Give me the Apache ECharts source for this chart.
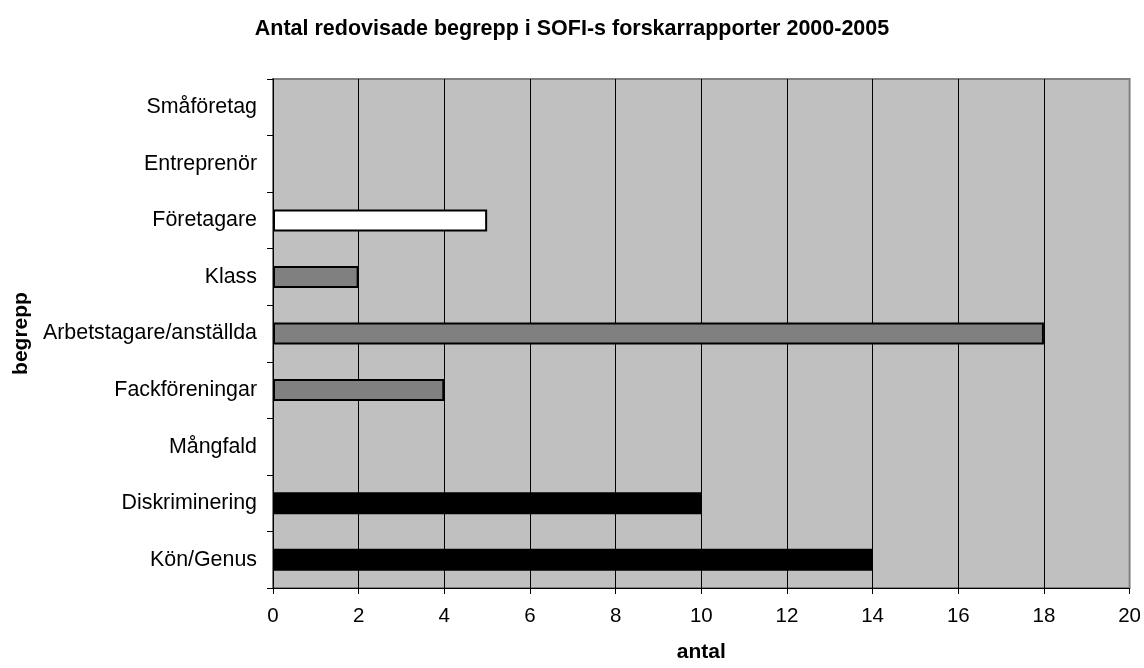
<!DOCTYPE html>
<html>
<head>
<meta charset="utf-8">
<script src="https://cdn.jsdelivr.net/npm/echarts@6/dist/echarts.min.js"></script>
<style>
html,body{margin:0;padding:0;background:#fff;}
#chart{width:1144px;height:668px;}
</style>
</head>
<body>
<div id="chart"></div>
<script>
// ---- data ----
const titleText = 'Antal redovisade begrepp i SOFI-s forskarrapporter 2000-2005';
const categories = ['Småföretag','Entreprenör','Företagare','Klass','Arbetstagare/anställda','Fackföreningar','Mångfald','Diskriminering','Kön/Genus'];
const values = [0, 0, 5, 2, 18, 4, 0, 10, 14];
const xTicks = [0, 2, 4, 6, 8, 10, 12, 14, 16, 18, 20];
const xAxisName = 'antal';
const yAxisName = 'begrepp';
// ---- style ----
const barColors = ['#ffffff','#ffffff','#ffffff','#808080','#808080','#808080','#000000','#000000','#000000'];
const FONT = 'Liberation Sans, Arial, sans-serif';

const chart = echarts.init(document.getElementById('chart'), null, {renderer:'canvas'});
chart.setOption({
  animation: false,
  backgroundColor: '#ffffff',
  title: {
    text: titleText,
    left: 'center',
    top: 13,
    textStyle: {fontFamily: FONT, fontSize: 21.5, fontWeight: 'bold', color: '#000'}
  },
  grid: {
    left: 273, right: 13, top: 79, bottom: 77,
    show: true, backgroundColor: '#c0c0c0', borderColor: '#808080', borderWidth: 2
  },
  xAxis: {
    type: 'value',
    min: xTicks[0], max: xTicks[xTicks.length-1], interval: xTicks[1]-xTicks[0],
    name: xAxisName, nameLocation: 'middle', nameGap: 54,
    nameTextStyle: {fontFamily: FONT, fontSize: 21, fontWeight: 'bold', color: '#000'},
    axisLine: {show: true, lineStyle: {color: '#000', width: 1}},
    axisTick: {show: true, inside: false, length: 6, lineStyle: {color: '#000'}},
    axisLabel: {fontFamily: FONT, fontSize: 20.5, color: '#000', margin: 18},
    splitLine: {show: true, showMaxLine: false, lineStyle: {color: '#000', width: 1}}
  },
  yAxis: {
    type: 'category',
    data: categories,
    inverse: true,
    name: yAxisName, nameLocation: 'middle', nameGap: 240, nameRotate: 90,
    nameTextStyle: {fontFamily: FONT, fontSize: 21, fontWeight: 'bold', color: '#000'},
    axisLine: {show: true, lineStyle: {color: '#000', width: 1}},
    axisTick: {show: true, inside: false, length: 6, alignWithLabel: false, lineStyle: {color: '#000'}},
    axisLabel: {fontFamily: FONT, fontSize: 21.4, color: '#000', margin: 16},
    splitLine: {show: false}
  },
  series: [{
    type: 'bar',
    barWidth: 22,
    data: values.map((v, i) => ({
      value: v === 0 ? null : v,
      itemStyle: {color: barColors[i], borderColor: '#000', borderWidth: 2}
    }))
  }]
});
</script>
</body>
</html>
